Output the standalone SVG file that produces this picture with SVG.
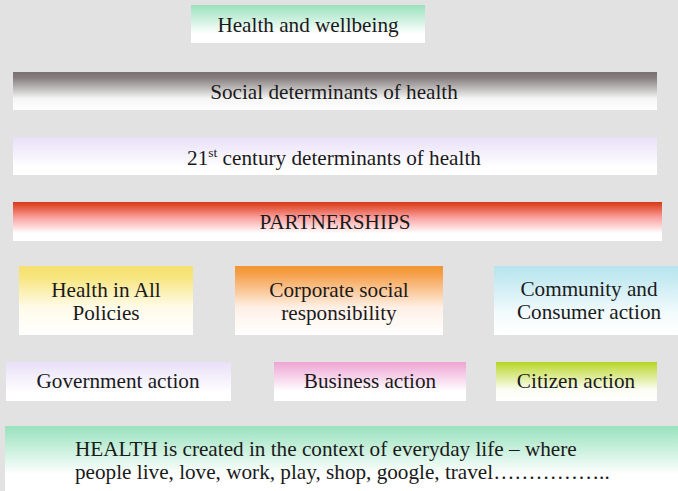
<svg xmlns="http://www.w3.org/2000/svg" width="678" height="491" viewBox="0 0 678 491">
<defs>
<linearGradient id="gGreen" x1="0" y1="0" x2="0" y2="1"><stop offset="0" stop-color="#98e2bd"/><stop offset="0.75" stop-color="#ffffff"/><stop offset="1" stop-color="#ffffff"/></linearGradient>
<linearGradient id="gGray" x1="0" y1="0" x2="0" y2="1"><stop offset="0" stop-color="#7a7272"/><stop offset="0.15" stop-color="#857d7d"/><stop offset="0.7" stop-color="#f6f6f6"/><stop offset="1" stop-color="#ffffff"/></linearGradient>
<linearGradient id="gLav" x1="0" y1="0" x2="0" y2="1"><stop offset="0" stop-color="#e8e0f8"/><stop offset="0.8" stop-color="#ffffff"/><stop offset="1" stop-color="#ffffff"/></linearGradient>
<linearGradient id="gRed" x1="0" y1="0" x2="0" y2="1"><stop offset="0" stop-color="#d23a1a"/><stop offset="0.12" stop-color="#e2553a"/><stop offset="0.4" stop-color="#fca0a0"/><stop offset="0.8" stop-color="#ffffff"/><stop offset="1" stop-color="#ffffff"/></linearGradient>
<linearGradient id="gYellow" x1="0" y1="0" x2="0" y2="1"><stop offset="0" stop-color="#f5e070"/><stop offset="0.15" stop-color="#f7e57c"/><stop offset="0.6" stop-color="#fffbea"/><stop offset="1" stop-color="#ffffff"/></linearGradient>
<linearGradient id="gOrange" x1="0" y1="0" x2="0" y2="1"><stop offset="0" stop-color="#f29632"/><stop offset="0.1" stop-color="#f59d45"/><stop offset="0.6" stop-color="#fff0e6"/><stop offset="1" stop-color="#ffffff"/></linearGradient>
<linearGradient id="gBlue" x1="0" y1="0" x2="0" y2="1"><stop offset="0" stop-color="#b5e4ee"/><stop offset="0.7" stop-color="#f4fbfd"/><stop offset="1" stop-color="#ffffff"/></linearGradient>
<linearGradient id="gPink" x1="0" y1="0" x2="0" y2="1"><stop offset="0" stop-color="#eea4d4"/><stop offset="0.75" stop-color="#ffffff"/><stop offset="1" stop-color="#ffffff"/></linearGradient>
<linearGradient id="gLime" x1="0" y1="0" x2="0" y2="1"><stop offset="0" stop-color="#b4d41e"/><stop offset="0.12" stop-color="#c4dd4a"/><stop offset="0.7" stop-color="#fbfdf2"/><stop offset="1" stop-color="#ffffff"/></linearGradient>
</defs>
<style>
text{font-family:'Liberation Serif','Tinos','DejaVu Serif','Noto Serif',serif;font-size:21.2px;fill:#1a1a1a}
.c{text-anchor:middle}
</style>
<rect x="0" y="0" width="678" height="491" fill="#e2e2e2"/>
<g font-family="Liberation Serif, DejaVu Serif, serif">
<g id="health-wellbeing"><rect x="191" y="5" width="234" height="38" fill="url(#gGreen)"/><text class="c" x="308" y="32">Health and wellbeing</text></g>
<g id="social-determinants"><rect x="13" y="72" width="644" height="38" fill="url(#gGray)"/><text class="c" x="334" y="99">Social determinants of health</text></g>
<g id="c21-determinants"><rect x="13" y="137" width="644" height="38" fill="url(#gLav)"/><text class="c" x="334" y="165">21<tspan font-size="13.5" dy="-8">st</tspan><tspan dy="8"> century determinants of health</tspan></text></g>
<g id="partnerships"><rect x="13" y="202" width="649" height="39" fill="url(#gRed)"/><text class="c" x="335" y="229">PARTNERSHIPS</text></g>
<g id="hiap"><rect x="19" y="266" width="174" height="69" fill="url(#gYellow)"/><text class="c" x="106" y="297">Health in All</text><text class="c" x="106" y="320">Policies</text></g>
<g id="csr"><rect x="235" y="266" width="208" height="69" fill="url(#gOrange)"/><text class="c" x="339" y="297">Corporate social</text><text class="c" x="339" y="320">responsibility</text></g>
<g id="community"><rect x="494" y="266" width="184" height="69" fill="url(#gBlue)"/><text class="c" x="589" y="296">Community and</text><text class="c" x="589" y="319">Consumer action</text></g>
<g id="government"><rect x="6" y="362" width="225" height="39" fill="url(#gLav)"/><text class="c" x="118" y="388">Government action</text></g>
<g id="business"><rect x="274" y="362" width="192" height="39" fill="url(#gPink)"/><text class="c" x="370" y="388">Business action</text></g>
<g id="citizen"><rect x="496" y="362" width="161" height="39" fill="url(#gLime)"/><text class="c" x="576" y="388">Citizen action</text></g>
<g id="health-everyday"><rect x="5" y="426" width="673" height="65" fill="url(#gGreen)"/><text x="75" y="456">HEALTH is created in the context of everyday life – where</text><text x="75" y="479">people live, love, work, play, shop, google, travel……………..</text></g>
</g>
<g id="connectors"></g>
</svg>
